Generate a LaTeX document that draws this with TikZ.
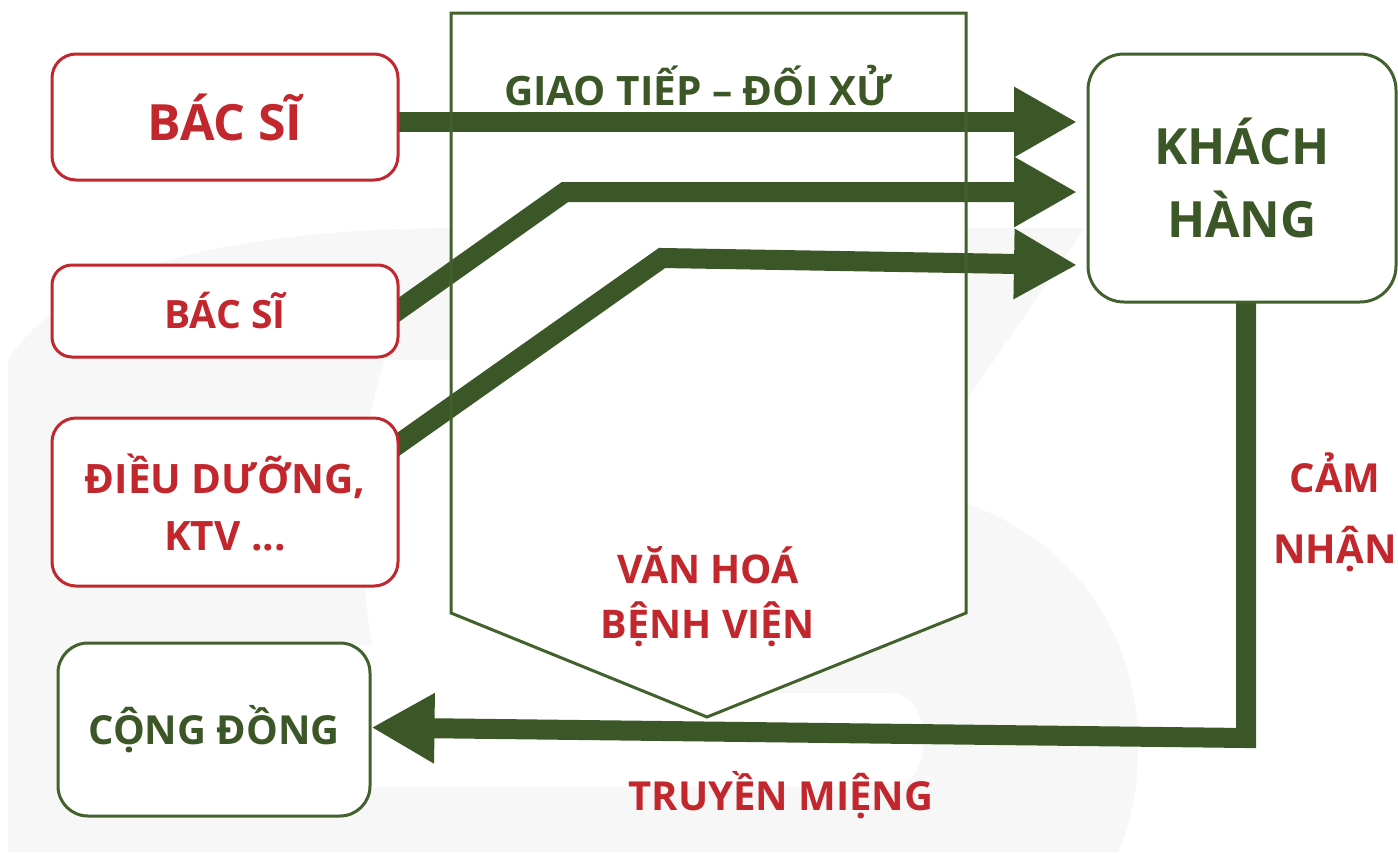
\documentclass[tikz,border=0pt]{standalone}
\usepackage{fontspec}
\setmainfont{Open Sans}
\usetikzlibrary{arrows.meta,calc}
\definecolor{dgreen}{HTML}{3B5727}
\definecolor{bgreen}{HTML}{42612D}
\definecolor{dred}{HTML}{C1272D}
\definecolor{markgray}{HTML}{F7F7F7}
\newcommand{\fs}[2]{\fontsize{#1}{#2}\selectfont\bfseries}
\pgfdeclarelayer{bg}
\pgfdeclarelayer{mid}
\pgfsetlayers{bg,mid,main}
\begin{document}
\begin{tikzpicture}[x=1pt,y=-1pt,
  redbox/.style={draw=dred, line width=3pt, rounded corners=24pt, fill=white,
    text=dred, align=center, inner sep=0pt},
  greenbox/.style={draw=bgreen, line width=3pt, rounded corners=30pt, fill=white,
    text=dgreen, align=center, inner sep=0pt},
  bigarrow/.style={draw=dgreen, line width=20pt, line join=miter,
    -{Triangle[length=63pt,width=66pt]}},
  redlabel/.style={text=dred, align=center, inner sep=0pt},
  greenlabel/.style={text=dgreen, align=center, inner sep=0pt}]

\useasboundingbox (0,0) rectangle (1398,852);

% boxes
\node[redbox, minimum width=346pt, minimum height=126pt, font=\fs{50}{60}]
  (b1) at (225,117) {BÁC SĨ};
\node[redbox, minimum width=346pt, minimum height=92pt, rounded corners=20pt,
  font=\fs{39}{48}] (b2) at (225,311) {BÁC SĨ};
\node[redbox, minimum width=346pt, minimum height=168pt, font=\fs{40.5}{57}]
  (b3) at (225,502) {ĐIỀU DƯỠNG,\\KTV ...};
\node[greenbox, minimum width=312pt, minimum height=173pt, font=\fs{40}{50}]
  (cd) at (214,729.5) {CỘNG ĐỒNG};
\node[greenbox, minimum width=308pt, minimum height=248pt, rounded corners=36pt,
  font=\fs{50}{73}] (kh) at (1242,178) {KHÁCH\\HÀNG};

% labels
\node[greenlabel, font=\fs{40.5}{50}] (lgt) at (698,86) {GIAO TIẾP – ĐỐI XỬ};
\node[redlabel, font=\fs{39.5}{55}] (lvh) at (708,597) {VĂN HOÁ\\BỆNH VIỆN};
\node[redlabel, font=\fs{40}{71}] (lcn) at (1335,512) {CẢM\\NHẬN};
\node[redlabel, font=\fs{40}{50}] (ltm) at (781,795) {TRUYỀN MIỆNG};

\begin{pgfonlayer}{bg}
  % faint logo in the background
  \fill[markgray] (8,852) -- (8,360) .. controls (70,262) and (250,228) .. (460,228)
    -- (1085,228) -- (968,398) -- (930,420) -- (930,500) -- (968,504)
    .. controls (1080,545) and (1138,640) .. (1138,745)
    .. controls (1138,800) and (1128,830) .. (1118,852) -- cycle;
  \fill[white] (112,787) -- (112,645) -- (372,645)
    .. controls (355,540) and (360,430) .. (385,360) -- (700,360) -- (700,693)
    -- (890,693) .. controls (935,693) and (935,787) .. (890,787) -- cycle;
  % hospital culture frame, background
  \fill[white] (451,13) -- (966,13) -- (966,613) -- (707,717) -- (451,613) -- cycle;
\end{pgfonlayer}

\begin{pgfonlayer}{mid}
  % arrows towards the customer
  \coordinate (s1) at ([xshift=-20pt,yshift=-5pt]b1.east);
  \coordinate (s2) at (400,309);
  \coordinate (s3) at (400,443);
  \coordinate (k1) at (1077,122);
  \coordinate (k2) at (1077,192);
  \coordinate (k3) at (1077,265);
  \coordinate (m2) at (565,192);
  \coordinate (m3) at (662,258);
  \draw[bigarrow] (s1) -- (k1);
  \draw[bigarrow] ($(s2)!-30pt!(m2)$) -- (m2) -- (k2);
  \draw[bigarrow] ($(s3)!-30pt!(m3)$) -- (m3) -- (k3);
  % word of mouth back to the community
  \coordinate (fb) at (1246,738);
  \draw[bigarrow] ([xshift=4pt,yshift=10pt]kh.south) -- (fb) -- ([yshift=2pt]cd.east);
  % hospital culture frame, outline
  \draw[bgreen, line width=3pt, line join=miter] (451,13) -- (966,13) -- (966,613)
    -- (707,717) -- (451,613) -- cycle;
\end{pgfonlayer}
\end{tikzpicture}
\end{document}
